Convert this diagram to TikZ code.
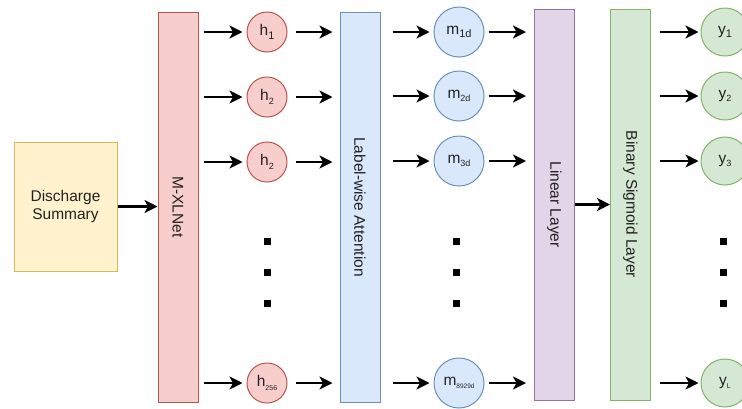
\documentclass[tikz,border=0pt]{standalone}
\usepackage{fontspec}
\setmainfont{Liberation Sans}
\usetikzlibrary{arrows.meta}
\definecolor{hfill}{HTML}{F8CECC}\definecolor{hline}{HTML}{B85450}
\definecolor{afill}{HTML}{DAE8FC}\definecolor{aline}{HTML}{6C8EBF}
\definecolor{lfill}{HTML}{E1D5E7}\definecolor{lline}{HTML}{9673A6}
\definecolor{gfill}{HTML}{D5E8D4}\definecolor{gline}{HTML}{82B366}
\definecolor{dfill}{HTML}{FFF2CC}\definecolor{dline}{HTML}{D6B656}
\definecolor{txt}{HTML}{222222}
\newcommand{\lowsub}[2]{\raisebox{-0.45ex}{\fontsize{#1}{#1}\selectfont #2}}

\begin{document}
\begin{tikzpicture}[x=1pt,y=-1pt,text=txt,
		font=\fontsize{15.5}{18}\selectfont,
		bar/.style={draw,line width=1pt,minimum width=40pt,inner sep=0pt},
		unit/.style={circle,draw,line width=1pt,inner sep=0pt},
		dotsq/.style={fill=black,minimum size=7pt,inner sep=0pt},
		arr/.style={line width=2.2pt,-{Stealth[length=13pt,width=13pt,inset=3.5pt]}}]
		\useasboundingbox (0,0) rectangle (742,408);
		% input and the four layers
		\node[draw=dline,fill=dfill,line width=1pt,minimum width=103pt,minimum height=129pt,align=center] (ds) at (65.5,206.5) {Discharge\\Summary};
		\node[bar,draw=hline,fill=hfill,minimum height=390pt,label={[rotate=-90]center:M-XLNet}] (xl) at (178,207) {};
		\node[bar,draw=aline,fill=afill,minimum height=390pt,label={[rotate=-90]center:Label-wise Attention}] (att) at (360,207) {};
		\node[bar,draw=lline,fill=lfill,minimum height=391pt,label={[rotate=-90]center:Linear Layer}] (lin) at (554.5,204.5) {};
		\node[bar,draw=gline,fill=gfill,minimum height=391pt,label={[rotate=-90]center:Binary Sigmoid Layer}] (bin) at (630.5,204.5) {};
		% hidden states
		\node[unit,draw=hline,fill=hfill,minimum size=40pt] (h1) at (267,32) {h\lowsub{11}{1}};
		\node[unit,draw=hline,fill=hfill,minimum size=40pt] (h2) at (267,97) {h\lowsub{9}{2}};
		\node[unit,draw=hline,fill=hfill,minimum size=40pt] (h3) at (267,162) {h\lowsub{9}{2}};
		\node[unit,draw=hline,fill=hfill,minimum size=40pt] (h4) at (267,383) {h\lowsub{7}{256}};
		% attention outputs
		\node[unit,draw=aline,fill=afill,minimum size=50pt] (m1) at (459,32) {m\lowsub{11}{1d}};
		\node[unit,draw=aline,fill=afill,minimum size=50pt] (m2) at (459,96) {m\lowsub{9}{2d}};
		\node[unit,draw=aline,fill=afill,minimum size=50pt] (m3) at (459,161) {m\lowsub{9}{3d}};
		\node[unit,draw=aline,fill=afill,minimum size=50pt] (m4) at (459,383) {m\lowsub{6.5}{8929d}};
		% labels
		\node[unit,draw=gline,fill=gfill,minimum size=48pt] (y1) at (725,32) {y\lowsub{11}{1}};
		\node[unit,draw=gline,fill=gfill,minimum size=48pt] (y2) at (725,96) {y\lowsub{9}{2}};
		\node[unit,draw=gline,fill=gfill,minimum size=48pt] (y3) at (725,161) {y\lowsub{9}{3}};
		\node[unit,draw=gline,fill=gfill,minimum size=48pt] (y4) at (725,383) {y\lowsub{7}{L}};
		% dots
		\node[dotsq] (hd1) at (267,241) {};\node[dotsq] (hd2) at (267,272) {};\node[dotsq] (hd3) at (267,303) {};
		\node[dotsq] (md1) at (456,241) {};\node[dotsq] (md2) at (456,272) {};\node[dotsq] (md3) at (456,303) {};
		\node[dotsq] (yd1) at (723,241) {};\node[dotsq] (yd2) at (723,272) {};\node[dotsq] (yd3) at (723,303) {};
		% arrows
		\draw[arr] (ds.east) -- (ds.east -| xl.west);
		\draw[arr,shorten <=5pt,shorten >=4pt] (xl.east |- h1) -- (h1);
		\draw[arr,shorten <=5pt,shorten >=4pt] (xl.east |- h2) -- (h2);
		\draw[arr,shorten <=5pt,shorten >=4pt] (xl.east |- h3) -- (h3);
		\draw[arr,shorten <=5pt,shorten >=4pt] (xl.east |- h4) -- (h4);
		\draw[arr,shorten <=8pt,shorten >=7pt] (h1) -- (h1 -| att.west);
		\draw[arr,shorten <=8pt,shorten >=7pt] (h2) -- (h2 -| att.west);
		\draw[arr,shorten <=8pt,shorten >=7pt] (h3) -- (h3 -| att.west);
		\draw[arr,shorten <=8pt,shorten >=7pt] (h4) -- (h4 -| att.west);
		\draw[arr,shorten <=12pt,shorten >=4pt] (att.east |- m1) -- (m1);
		\draw[arr,shorten <=12pt,shorten >=4pt] (att.east |- m2) -- (m2);
		\draw[arr,shorten <=12pt,shorten >=4pt] (att.east |- m3) -- (m3);
		\draw[arr,shorten <=12pt,shorten >=4pt] (att.east |- m4) -- (m4);
		\draw[arr,shorten <=4pt,shorten >=8pt] (m1) -- (m1 -| lin.west);
		\draw[arr,shorten <=4pt,shorten >=8pt] (m2) -- (m2 -| lin.west);
		\draw[arr,shorten <=4pt,shorten >=8pt] (m3) -- (m3 -| lin.west);
		\draw[arr,shorten <=4pt,shorten >=8pt] (m4) -- (m4 -| lin.west);
		\draw[arr] (lin.east) -- (lin.east -| bin.west);
		\draw[arr,shorten <=9pt,shorten >=2pt] (bin.east |- y1) -- (y1);
		\draw[arr,shorten <=9pt,shorten >=2pt] (bin.east |- y2) -- (y2);
		\draw[arr,shorten <=9pt,shorten >=2pt] (bin.east |- y3) -- (y3);
		\draw[arr,shorten <=9pt,shorten >=2pt] (bin.east |- y4) -- (y4);
	\end{tikzpicture}
\end{document}
